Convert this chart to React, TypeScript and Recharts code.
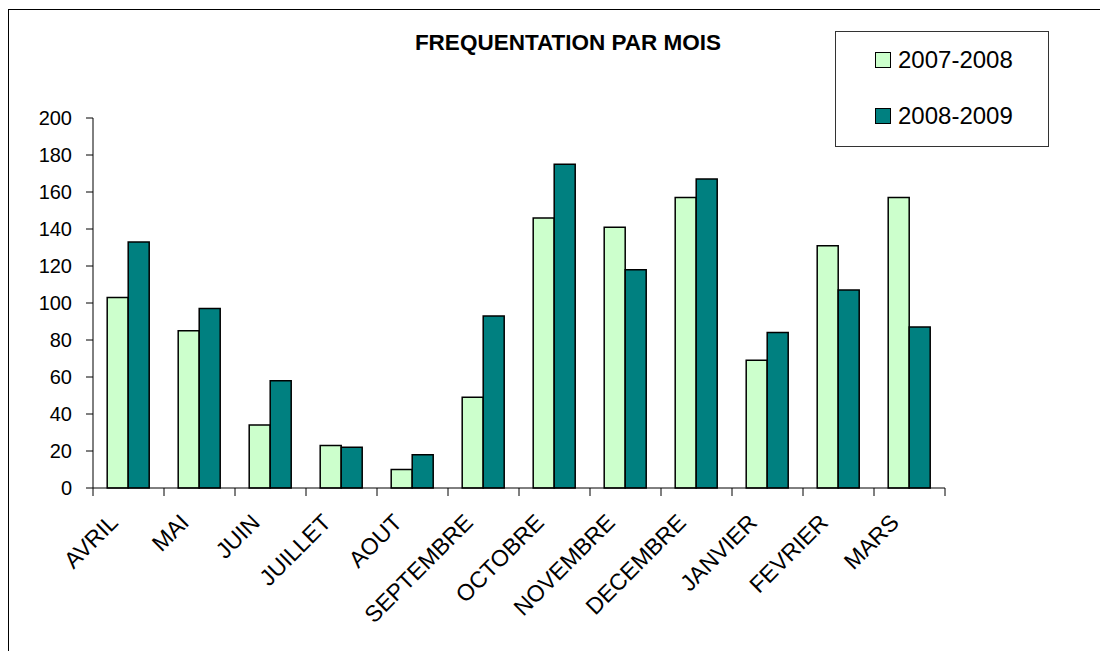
import React from 'react';
import { BarChart, Bar, XAxis, YAxis } from 'recharts';

const months = ['AVRIL', 'MAI', 'JUIN', 'JUILLET', 'AOUT', 'SEPTEMBRE', 'OCTOBRE', 'NOVEMBRE', 'DECEMBRE', 'JANVIER', 'FEVRIER', 'MARS'];
const season0708 = [103, 85, 34, 23, 10, 49, 146, 141, 157, 69, 131, 157];
const season0809 = [133, 97, 58, 22, 18, 93, 175, 118, 167, 84, 107, 87];
const yTicks = [0, 20, 40, 60, 80, 100, 120, 140, 160, 180, 200];
const seriesNames = ['2007-2008', '2008-2009'];
const seriesColors = ['#CCFFCC', '#008080'];
const title = 'FREQUENTATION PAR MOIS';

const data = months.map((m, i) => ({ month: m, a: season0708[i], b: season0809[i] }));

const FONT = '"Liberation Sans", Arial, sans-serif';

const XTick = (props: any) => {
  const { x, y, payload, width, visibleTicksCount } = props;
  const half = typeof payload.offset === 'number' && payload.offset > 0
    ? payload.offset
    : width / (visibleTicksCount || months.length) / 2;
  const isLast = payload.index === months.length - 1;
  const ax = x - 21;
  const ay = y + 24;
  return (
    <g>
      <line x1={x - half} x2={x - half} y1={y} y2={y + 8} stroke="#000" strokeWidth={1} />
      {isLast && <line x1={x + half} x2={x + half} y1={y} y2={y + 8} stroke="#000" strokeWidth={1} />}
      <text
        x={ax}
        y={ay}
        textAnchor="end"
        dominantBaseline="hanging"
        transform={`rotate(-45, ${ax}, ${ay})`}
        fontFamily={FONT}
        fontSize={23}
        fill="#000"
      >
        {payload.value}
      </text>
    </g>
  );
};

const LegendBox = () => (
  <div
    style={{
      position: 'absolute',
      left: 835,
      top: 31,
      width: 214,
      height: 116,
      border: '1px solid #333',
      boxSizing: 'border-box',
      background: '#fff',
      fontFamily: FONT,
      fontSize: 24,
      color: '#000',
    }}
  >
    {seriesNames.map((name, i) => (
      <div key={i} style={{ position: 'absolute', left: 39, top: 14 + i * 56, display: 'flex', alignItems: 'center', height: 28 }}>
        <span
          style={{
            display: 'inline-block',
            width: 14,
            height: 14,
            background: seriesColors[i],
            border: '1px solid #000',
            marginRight: 7,
          }}
        />
        <span style={{ lineHeight: '28px' }}>{name}</span>
      </div>
    ))}
  </div>
);

export default function App() {
  return (
    <div style={{ position: 'absolute', left: 0, top: 0, width: 1100, height: 651, overflow: 'hidden', background: '#fff' }}>
      <div
        style={{
          position: 'absolute',
          left: 8,
          top: 9,
          width: 1200,
          height: 800,
          borderLeft: '1px solid #000',
          borderTop: '1px solid #000',
        }}
      />
      <div style={{ position: 'absolute', left: 0, top: 0 }}>
        <BarChart
          width={1100}
          height={651}
          data={data}
          margin={{ top: 118, right: 155, bottom: 0, left: 33 }}
          barCategoryGap="20%"
          barGap={0}
        >
          <text x={568} y={50} textAnchor="middle" fontFamily={FONT} fontWeight="bold" fontSize={22.5} fill="#000">
            {title}
          </text>
          <XAxis
            dataKey="month"
            height={163}
            interval={0}
            tickLine={false}
            tickSize={0}
            tickMargin={0}
            axisLine={{ stroke: '#000', strokeWidth: 1 }}
            tick={<XTick />}
          />
          <YAxis
            width={60}
            domain={[0, 200]}
            ticks={yTicks}
            interval={0}
            tickSize={7}
            tickMargin={14}
            axisLine={{ stroke: '#000', strokeWidth: 1 }}
            tickLine={{ stroke: '#000', strokeWidth: 1 }}
            tick={{ fontFamily: FONT, fontSize: 20, fill: '#000' }}
          />
          <Bar dataKey="a" name={seriesNames[0]} fill={seriesColors[0]} stroke="#000" strokeWidth={1.5} isAnimationActive={false} />
          <Bar dataKey="b" name={seriesNames[1]} fill={seriesColors[1]} stroke="#000" strokeWidth={1.5} isAnimationActive={false} />
        </BarChart>
      </div>
      <LegendBox />
    </div>
  );
}
